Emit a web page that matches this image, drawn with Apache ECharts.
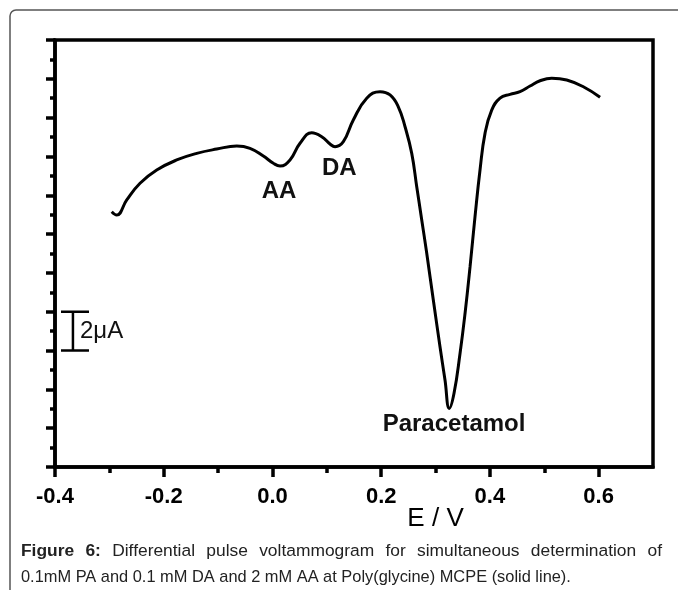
<!DOCTYPE html>
<html>
<head>
<meta charset="utf-8">
<title>Figure 6 - DPV</title>
<script src="https://cdn.jsdelivr.net/npm/echarts@6/dist/echarts.min.js"></script>
<style>
  html, body { margin: 0; padding: 0; background: #fff; }
  #chart { width: 678px; height: 590px; }
</style>
</head>
<body>
<div id="chart"></div>
<script>
// E (V) and current (uA, arbitrary zero)
var potential = [-0.2957, -0.2865, -0.268, -0.2436, -0.2129, -0.1761, -0.1393, -0.1025, -0.0657, -0.0413,
  -0.0168, 0.0016, 0.0139, 0.0323, 0.0507, 0.0722, 0.0906, 0.1059, 0.1151, 0.1304,
  0.1487, 0.1734, 0.1979, 0.2163, 0.2315, 0.2439, 0.2562, 0.2654, 0.2746, 0.2838,
  0.2959, 0.3082, 0.3174, 0.3253, 0.3340, 0.3451, 0.3543, 0.3635,
  0.3726, 0.3818, 0.3910, 0.4033, 0.4186, 0.4370, 0.4554, 0.4738, 0.4922, 0.5137,
  0.5413, 0.5719, 0.6026];
var current = [13.15, 12.98, 13.76, 14.62, 15.30, 15.82, 16.16, 16.38, 16.54, 16.42,
  16.02, 15.65, 15.51, 15.82, 16.68, 17.22, 17.02, 16.64, 16.50, 16.76,
  17.88, 19.00, 19.34, 19.17, 18.56, 17.53, 16.16, 14.44, 12.73, 11.01,
  8.60, 6.20, 4.48, 3.02, 3.80, 5.86, 7.92, 10.32,
  12.90, 15.30, 17.19, 18.39, 19.00, 19.20, 19.34, 19.63, 19.90, 20.03,
  19.94, 19.59, 19.05];

var xTicks = [-0.4, -0.2, 0.0, 0.2, 0.4, 0.6];

// peak labels
var peakNames = ['AA', 'DA', 'Paracetamol'];
var peakX = [0.012, 0.123, 0.334];
var peakY = [14.2, 15.4, 2.2];

// 2 uA scale bar
var barX = [-0.389, -0.367, -0.3375];
var barY = [6, 8];
var barText = '2\u03bcA';

var captionLine1 = 'Figure 6: Differential pulse voltammogram for simultaneous determination of';
var captionLine2 = '0.1mM PA and 0.1 mM DA and 2 mM AA at Poly(glycine) MCPE (solid line).';

var FONT = '"Liberation Sans", Arial, sans-serif';

var chart = echarts.init(document.getElementById('chart'));

var curve = [];
for (var i = 0; i < potential.length; i++) {
  curve.push([potential[i], current[i]]);
}
// draw the I-beam as one path
var bar = [
  [barX[0], barY[1]], [barX[2], barY[1]], [barX[1], barY[1]],
  [barX[1], barY[0]], [barX[0], barY[0]], [barX[2], barY[0]]
];

var option = {
  animation: false,
  backgroundColor: '#fff',
  textStyle: { fontFamily: FONT },
  grid: {
    left: 55, right: 25, top: 40, bottom: 123,
    show: true, borderColor: '#000', borderWidth: 3.5
  },
  xAxis: {
    type: 'value',
    min: -0.4, max: 0.7, interval: 0.2,
    axisLine: { onZero: false, lineStyle: { color: '#000', width: 3.5 } },
    axisTick: { inside: false, length: 10, customValues: xTicks, lineStyle: { width: 3.5, color: '#000' } },
    minorTick: { show: true, splitNumber: 2, length: 6, lineStyle: { width: 3.5, color: '#000' } },
    splitLine: { show: false },
    axisLabel: {
      margin: 19, color: '#000', fontSize: 22, fontWeight: 'bold', fontFamily: FONT,
      showMaxLabel: false,
      formatter: function (v) {
        if (Math.abs(v) < 1e-9) return '0.0';
        return v.toFixed(1);
      }
    }
  },
  yAxis: {
    type: 'value',
    min: 0, max: 22, interval: 2,
    axisLine: { show: true, onZero: false, lineStyle: { color: '#000', width: 3.5 } },
    axisTick: { show: true, inside: false, length: 9, lineStyle: { width: 3.5, color: '#000' } },
    minorTick: { show: true, splitNumber: 2, length: 5, lineStyle: { width: 3.5, color: '#000' } },
    splitLine: { show: false },
    axisLabel: { show: false }
  },
  series: [
    {
      type: 'line',
      data: curve,
      smooth: 0.45,
      showSymbol: false,
      lineStyle: { color: '#000', width: 3 }
    },
    {
      type: 'line',
      data: bar,
      showSymbol: false,
      lineStyle: { color: '#000', width: 2.5 }
    }
  ]
};
chart.setOption(option);

// text annotations placed in data coordinates
var graphics = [];
graphics.push({
  type: 'rect',
  shape: { x: 10, y: 10, width: 720, height: 640, r: 6 },
  style: { fill: 'none', stroke: '#555', lineWidth: 1.5 },
  silent: true
});
for (var j = 0; j < peakNames.length; j++) {
  var p = chart.convertToPixel({ gridIndex: 0 }, [peakX[j], peakY[j]]);
  graphics.push({
    type: 'text', x: p[0], y: p[1],
    style: {
      text: peakNames[j], fill: '#111', font: 'bold 24px ' + FONT,
      textAlign: 'center', textVerticalAlign: 'middle'
    }
  });
}
var pb = chart.convertToPixel({ gridIndex: 0 }, [-0.354, 7]);
graphics.push({
  type: 'text', x: pb[0], y: pb[1],
  style: { text: barText, fill: '#111', font: '24px ' + FONT, textAlign: 'left', textVerticalAlign: 'middle' }
});
// axis title sits under E = 0.3 V
var pe = chart.convertToPixel({ gridIndex: 0 }, [0.3, 0]);
graphics.push({
  type: 'text', x: pe[0], y: 519,
  style: { text: 'E / V', fill: '#000', font: '26px ' + FONT, textAlign: 'center', textVerticalAlign: 'middle' }
});

// caption: first line is justified to the figure width, second is left aligned
var capSize1 = 17.4, capSize2 = 16.4;
var capLeft = 21, capRight = 662;
var ctx = document.createElement('canvas').getContext('2d');
var words = captionLine1.split(' ');
var widths = [];
var total = 0;
for (var k = 0; k < words.length; k++) {
  ctx.font = (k < 2 ? 'bold ' : '') + capSize1 + 'px ' + FONT;
  widths.push(ctx.measureText(words[k]).width);
  total += widths[k];
}
var gap = (capRight - capLeft - total) / (words.length - 1);
var cx = capLeft;
for (var k = 0; k < words.length; k++) {
  graphics.push({
    type: 'text', x: cx, y: 551,
    style: {
      text: words[k], fill: '#222', font: (k < 2 ? 'bold ' : '') + capSize1 + 'px ' + FONT,
      textAlign: 'left', textVerticalAlign: 'middle'
    }
  });
  cx += widths[k] + gap;
}
graphics.push({
  type: 'text', x: capLeft, y: 577,
  style: { text: captionLine2, fill: '#222', font: capSize2 + 'px ' + FONT, textAlign: 'left', textVerticalAlign: 'middle' }
});
chart.setOption({ graphic: graphics });
</script>
</body>
</html>
